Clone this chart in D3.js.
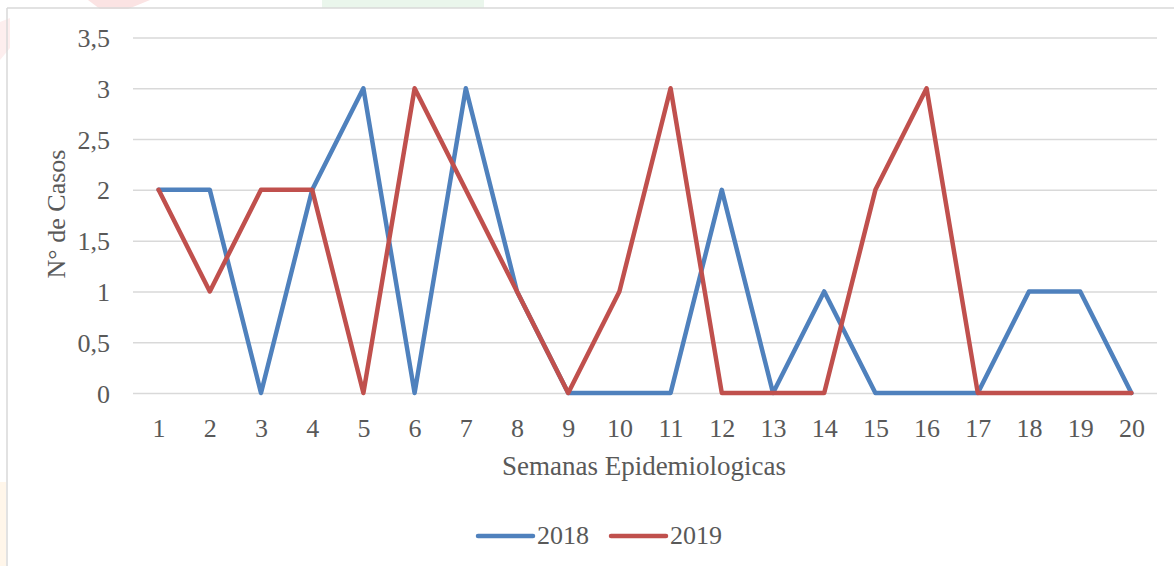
<!DOCTYPE html>
<html>
<head>
<meta charset="utf-8">
<script src="https://cdn.jsdelivr.net/npm/d3@7"></script>
<style>
  body { margin: 0; background: #fff; }
  text { font-family: "Liberation Serif", "DejaVu Serif", serif; fill: #595959; }
</style>
</head>
<body>
<div id="chart"></div>
<script>
// data
var semanas = ["1","2","3","4","5","6","7","8","9","10","11","12","13","14","15","16","17","18","19","20"];
var casos2018 = [2,2,0,2,3,0,3,1,0,0,0,2,0,1,0,0,0,1,1,0];
var casos2019 = [2,1,2,2,0,3,2,1,0,1,3,0,0,0,2,3,0,0,0,0];
var yTicks = [0,0.5,1,1.5,2,2.5,3,3.5];
var seriesNames = ["2018","2019"];
var colors = ["#4F81BD","#C0504D"];

var svgWidth = 1174, svgHeight = 566;
var margin = {top: 37.5, right: 17, bottom: 173, left: 133};
var chartWidth = svgWidth - margin.left - margin.right;
var chartHeight = svgHeight - margin.top - margin.bottom;

var svg = d3.select("#chart").append("svg")
    .attr("width", svgWidth)
    .attr("height", svgHeight);

// faint background watermark bits
var wm = svg.append("g");
wm.append("path").attr("d", "M88,0 L150,0 L128,9 L100,9 Z").attr("fill", "#fbe3e3");
wm.append("path").attr("d", "M0,22 L10,18 L10,48 L0,60 Z").attr("fill", "#fdeeee");
wm.append("rect").attr("x", 322).attr("y", 0).attr("width", 162).attr("height", 8).attr("fill", "#eaf6ec");
wm.append("rect").attr("x", 0).attr("y", 482).attr("width", 6).attr("height", 84).attr("fill", "#fff6ea");

// frame
svg.append("line").attr("x1", 7).attr("x2", svgWidth).attr("y1", 8).attr("y2", 8)
    .attr("stroke", "#d9d9d9").attr("stroke-width", 1.5);
svg.append("line").attr("x1", 7).attr("x2", 7).attr("y1", 8).attr("y2", svgHeight)
    .attr("stroke", "#d9d9d9").attr("stroke-width", 1.5);

var g = svg.append("g")
    .attr("transform", `translate(${margin.left}, ${margin.top})`);

var xScale = d3.scalePoint()
    .domain(semanas)
    .range([0, chartWidth])
    .padding(0.5);

var yScale = d3.scaleLinear()
    .domain([0, 3.5])
    .range([chartHeight, 0]);

// y axis with gridlines
var leftAxis = d3.axisLeft(yScale)
    .tickValues(yTicks)
    .tickSize(-chartWidth)
    .tickPadding(23)
    .tickFormat(d => String(d).replace(".", ","));

var yAxisG = g.append("g").call(leftAxis);
yAxisG.select(".domain").remove();
yAxisG.selectAll(".tick line").attr("stroke", "#d9d9d9").attr("stroke-width", 1.5);
yAxisG.selectAll(".tick text")
    .attr("font-size", 26)
    .attr("dy", null)
    .attr("y", 9)
    .style("font-family", null);

// x axis
var bottomAxis = d3.axisBottom(xScale).tickSize(0);
var xAxisG = g.append("g")
    .attr("transform", `translate(0,${chartHeight})`)
    .call(bottomAxis);
xAxisG.select(".domain").remove();
xAxisG.selectAll(".tick text")
    .attr("font-size", 26)
    .attr("dy", null)
    .attr("y", 44);
xAxisG.attr("font-family", null);
yAxisG.attr("font-family", null);

// lines
var line = d3.line()
    .x((d, i) => xScale(semanas[i]))
    .y(d => yScale(d));

[casos2018, casos2019].forEach(function(vals, i) {
    g.append("path")
        .datum(vals)
        .attr("d", line)
        .attr("fill", "none")
        .attr("stroke", colors[i])
        .attr("stroke-width", 4.5)
        .attr("stroke-linejoin", "round")
        .attr("stroke-linecap", "round");
});

// axis titles
svg.append("text")
    .attr("x", 644)
    .attr("y", 475)
    .attr("text-anchor", "middle")
    .attr("font-size", 27)
    .text("Semanas Epidemiologicas");

svg.append("text")
    .attr("transform", "translate(65,214) rotate(-90)")
    .attr("text-anchor", "middle")
    .attr("font-size", 26)
    .text("N° de Casos");

// legend
var legendX = [478, 611];
seriesNames.forEach(function(name, i) {
    svg.append("line")
        .attr("x1", legendX[i]).attr("x2", legendX[i] + 55)
        .attr("y1", 536).attr("y2", 536)
        .attr("stroke", colors[i])
        .attr("stroke-width", 4.5)
        .attr("stroke-linecap", "round");
    svg.append("text")
        .attr("x", legendX[i] + 59)
        .attr("y", 544)
        .attr("font-size", 26)
        .text(name);
});
</script>
</body>
</html>
